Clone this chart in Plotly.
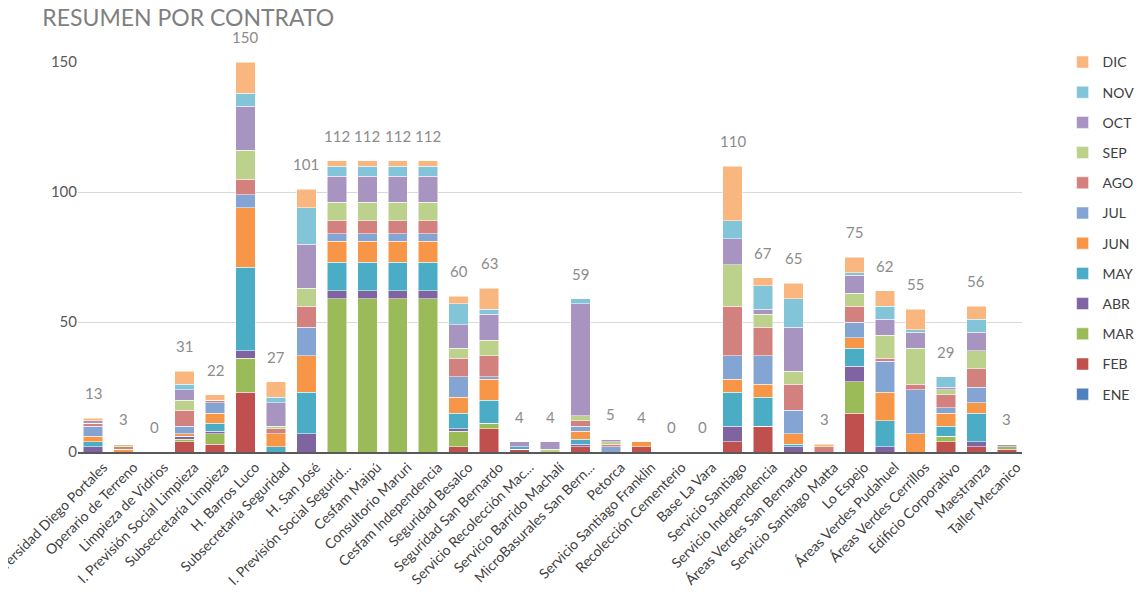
import plotly.graph_objects as go

contratos = ["Universidad Diego Portales", "Operario de Terreno", "Limpieza de Vidrios",
             "I. Previsión Social Limpieza", "Subsecretaría Limpieza", "H. Barros Luco",
             "Subsecretaría Seguridad", "H. San José", "I. Previsión Social Segurid...",
             "Cesfam Maipú", "Consultorio Maruri", "Cesfam Independencia", "Seguridad Besalco",
             "Seguridad San Bernardo", "Servicio Recolección Mac...", "Servicio Barrido Machalí",
             "MicroBasurales San Bern...", "Petorca", "Servicio Santiago Franklin",
             "Recolección Cementerio", "Base La Vara", "Servicio Santiago",
             "Servicio Independencia", "Áreas Verdes San Bernardo", "Servicio Santiago Matta",
             "Lo Espejo", "Áreas Verdes Pudahuel", "Áreas Verdes Cerrillos",
             "Edificio Corporativo", "Maestranza", "Taller Mecanico"]

meses = ["ENE", "FEB", "MAR", "ABR", "MAY", "JUN", "JUL", "AGO", "SEP", "OCT", "NOV", "DIC"]

# one list per month, one value per contrato
ene = [0, 0, 0, 0, 0, 0, 0, 0, 0, 0, 0, 0, 0, 0, 0, 0, 0, 0, 0, 0, 0, 0, 0, 0, 0, 0, 0, 0, 0, 0, 0]
feb = [0, 0, 0, 4, 3, 23, 0, 0, 0, 0, 0, 0, 2, 9, 1, 0, 2, 0, 2, 0, 0, 4, 10, 0, 0, 15, 0, 0, 4, 2, 1]
mar = [0, 0, 0, 1, 4, 13, 0, 0, 59, 59, 59, 59, 6, 2, 0, 0, 0, 0, 0, 0, 0, 0, 0, 0, 0, 12, 0, 0, 2, 0, 1]
abr = [2, 0, 0, 1, 1, 3, 0, 7, 3, 3, 3, 3, 1, 0, 0, 0, 1, 0, 0, 0, 0, 6, 0, 2, 0, 6, 2, 0, 0, 2, 0]
may = [2, 0, 0, 0, 3, 32, 2, 16, 11, 11, 11, 11, 6, 9, 1, 0, 2, 0, 0, 0, 0, 13, 11, 1, 0, 7, 10, 0, 4, 11, 0]
jun = [2, 1, 0, 1, 4, 23, 5, 14, 8, 8, 8, 8, 6, 8, 0, 0, 3, 0, 2, 0, 0, 5, 5, 4, 0, 4, 11, 7, 5, 4, 0]
jul = [4, 0, 0, 3, 4, 5, 0, 11, 3, 3, 3, 3, 8, 1, 0, 0, 2, 2, 0, 0, 0, 9, 11, 9, 0, 6, 12, 17, 2, 6, 0]
ago = [1, 1, 0, 6, 1, 6, 2, 8, 5, 5, 5, 5, 7, 8, 0, 0, 2, 1, 0, 0, 0, 19, 11, 10, 2, 6, 1, 2, 5, 7, 0]
sep = [0, 1, 0, 4, 0, 11, 1, 7, 7, 7, 7, 7, 4, 6, 0, 1, 2, 1, 0, 0, 0, 16, 5, 5, 0, 5, 9, 14, 2, 7, 0]
oct_ = [1, 0, 0, 4, 0, 17, 9, 17, 10, 10, 10, 10, 9, 10, 2, 3, 43, 1, 0, 0, 0, 10, 2, 17, 0, 7, 6, 6, 1, 7, 1]
nov = [0, 0, 0, 2, 0, 5, 2, 14, 4, 4, 4, 4, 8, 2, 0, 0, 2, 0, 0, 0, 0, 7, 9, 11, 0, 1, 5, 1, 4, 5, 0]
dic = [1, 0, 0, 5, 2, 12, 6, 7, 2, 2, 2, 2, 3, 8, 0, 0, 0, 0, 0, 0, 0, 21, 3, 6, 1, 6, 6, 8, 0, 5, 0]

valores = [ene, feb, mar, abr, may, jun, jul, ago, sep, oct_, nov, dic]
colores = ["#4F81BD", "#C0504D", "#9BBB59", "#8064A2", "#4BACC6", "#F79646",
           "#84A5D3", "#D3817E", "#BCD28C", "#A894C1", "#82C5D8", "#F9B77F"]

totales = [sum(v[i] for v in valores) for i in range(len(contratos))]

fig = go.Figure()
for i, (mes, vals, col) in enumerate(zip(meses, valores, colores)):
    # DIC on top of the legend, ENE at the bottom
    fig.add_trace(go.Bar(x=contratos, y=vals, name=mes, legendgroup=mes,
                         legendrank=len(meses) - i,
                         marker=dict(color=col, line=dict(color="white", width=0.5))))

for c, t in zip(contratos, totales):
    fig.add_annotation(x=c, y=t, text=str(t), showarrow=False, yanchor="bottom", yshift=14,
                       font=dict(size=15, color="#8c8c8c"))

# the page adds an 8px body margin, so margins are shifted by that amount
fig.update_layout(
    barmode="stack",
    bargap=0.36,
    width=1144, height=602,
    margin=dict(l=70, r=106, t=54, b=158),
    plot_bgcolor="white", paper_bgcolor="white",
    font=dict(family="Lato, Open Sans, sans-serif", color="#404040"),
    title=dict(text="RESUMEN POR CONTRATO", x=0.03, xanchor="left", y=0.997, yanchor="top",
               font=dict(size=23, color="#7f7f7f")),
    legend=dict(traceorder="grouped", tracegroupgap=9, x=1.043, xanchor="left",
                y=1.04, yanchor="top", maxheight=560, font=dict(size=14, color="#404040")),
    showlegend=True,
)
fig.update_xaxes(tickangle=-45, tickfont=dict(size=14, color="#404040"), showline=True,
                 linecolor="#595959", linewidth=1.5, automargin=False, ticks="",
                 ticklabelshift=10)
fig.update_yaxes(range=[0, 150], tickvals=[0, 50, 100, 150], showgrid=True, gridcolor="#d9d9d9",
                 zeroline=False, tickfont=dict(size=15, color="#595959"), ticks="", automargin=False)

fig.write_html("out.html")
